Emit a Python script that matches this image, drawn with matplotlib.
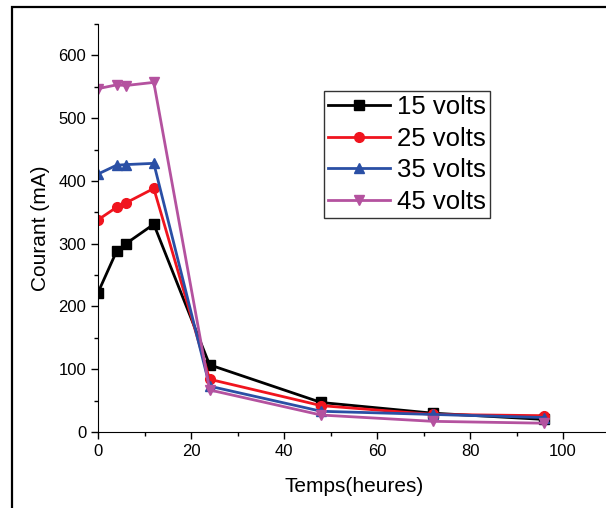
import matplotlib
matplotlib.use("Agg")
import matplotlib.pyplot as plt
from matplotlib.patches import Rectangle
from matplotlib.ticker import MultipleLocator

plt.rcParams['font.family'] = ['Liberation Sans', 'DejaVu Sans']

# time in hours
temps = [0, 4, 6, 12, 24, 48, 72, 96]
# current (mA) per voltage
v15 = [222, 288, 300, 331, 107, 47, 30, 20]
v25 = [338, 358, 365, 388, 84, 42, 28, 26]
v35 = [411, 425, 426, 428, 73, 33, 28, 23]
v45 = [547, 553, 552, 557, 67, 27, 17, 14]
labels = ['15 volts', '25 volts', '35 volts', '45 volts']

series = [v15, v25, v35, v45]
colors = ['#000000', '#F0141E', '#2A4FA5', '#B4529F']
markers = ['s', 'o', '^', 'v']

fig = plt.figure(figsize=(6.06, 5.08), dpi=100)
ax = fig.add_axes([98 / 606, 76 / 508, 110 * 4.65 / 606, 408 / 508])

for y, c, m, lab in zip(series, colors, markers, labels):
    ax.plot(temps, y, color=c, marker=m, markersize=7, linewidth=2, label=lab)

ax.set_xlim(0, 110)
ax.set_ylim(0, 650)
ax.xaxis.set_major_locator(MultipleLocator(20))
ax.xaxis.set_minor_locator(MultipleLocator(10))
ax.yaxis.set_major_locator(MultipleLocator(100))
ax.yaxis.set_minor_locator(MultipleLocator(50))
ax.tick_params(which='major', direction='out', length=5, width=1, labelsize=12)
ax.tick_params(which='minor', direction='out', length=3, width=1)
ax.spines['top'].set_visible(False)
ax.spines['right'].set_visible(False)
ax.set_xlabel('Temps(heures)', fontsize=15, labelpad=13)
ax.set_ylabel('Courant (mA)', fontsize=15, labelpad=6)

leg = ax.legend(loc='upper left', bbox_to_anchor=(324 / 606, 1 - 91 / 508),
                bbox_transform=fig.transFigure, fontsize=18.5, handlelength=2.4,
                frameon=True, fancybox=False, edgecolor='black',
                borderpad=0.15, labelspacing=0.3, handletextpad=0.3,
                borderaxespad=0)
leg.get_frame().set_linewidth(1)

# outer frame around the figure
fig.patches.append(Rectangle((12 / 606, -0.1), 1.0, 1.1 - 7 / 508,
                             transform=fig.transFigure, fill=False,
                             edgecolor='black', linewidth=1.6))

fig.savefig('out.png', dpi=100)
